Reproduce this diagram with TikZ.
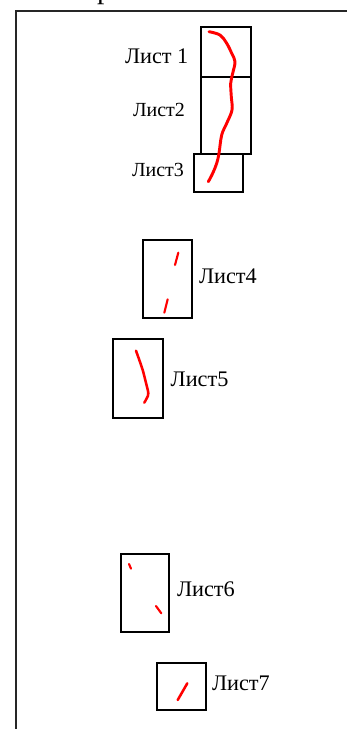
\documentclass[tikz,border=0pt]{standalone}
\usepackage{fontspec}
\setmainfont{Liberation Serif}
\begin{document}
\begin{tikzpicture}[x=0.75pt,y=-0.75pt,
  sheet/.style={draw=black,line width=1.5pt},
  frameline/.style={draw=black!85,line width=1.1pt},
  stroke/.style={draw=red,line width=2.2pt,line cap=round,line join=round},
  thinstroke/.style={draw=red,line width=1.6pt,line cap=round},
  lbl/.style={anchor=base west,inner sep=0pt,outer sep=0pt,font=\fontsize{16.7}{18}\selectfont},
  lblsmall/.style={lbl,font=\fontsize{15}{17}\selectfont}]
\useasboundingbox (0,0) rectangle (347,729);
% cut-off heading fragment
\node[lbl,font=\fontsize{22}{24}\selectfont] (head) at (97,-2) {р};
% frame
\draw[frameline] (16,729) -- (16,11) -- (347,11);
% sheets
\draw[sheet] (201,27) rectangle (250.5,76.5);
\draw[sheet] (201,76.5) rectangle (250.5,154.3);
\draw[sheet] (194,154.3) rectangle (243.3,192.3);
\draw[sheet] (142.7,240) rectangle (192,318.3);
\draw[sheet] (113.3,339) rectangle (162.7,418.3);
\draw[sheet] (120.7,554) rectangle (169.3,631.7);
\draw[sheet] (157.3,663.3) rectangle (206,710);
% red strokes
\draw[stroke] plot[smooth,tension=0.6] coordinates {(209,31.7) (220,35) (226.7,43.3) (231.7,53.3) (235,61.7) (232.7,73.3) (230.7,83.3) (231.3,96.7) (232,110) (226.7,123.3) (221.7,135) (219,153.3) (216.7,163.3) (212.7,173.3) (208.3,181.7)};
\draw[thinstroke] (178.3,252.7) -- (175,265);
\draw[thinstroke] (167.7,299.3) -- (164.3,312.7);
\draw[stroke,line width=1.9pt] plot[smooth,tension=0.6] coordinates {(136,350.7) (139.3,360) (142.7,370) (145.7,381.7) (148.3,393.3) (146.7,398.3) (144.3,402.7)};
\draw[thinstroke] (129,564) -- (131,568.7);
\draw[thinstroke] (156,606) -- (161.3,613.3);
\draw[thinstroke,line width=1.9pt] (187.3,683.3) -- (177.7,700);
% labels
\node[lbl] (l1) at (125,63) {Лист 1};
\node[lblsmall] (l2) at (133,116.7) {Лист2};
\node[lblsmall] (l3) at (132,176.7) {Лист3};
\node[lbl] (l4) at (199,283.3) {Лист4};
\node[lbl] (l5) at (170.7,386) {Лист5};
\node[lbl] (l6) at (177,596.7) {Лист6};
\node[lbl] (l7) at (212,690) {Лист7};
\end{tikzpicture}
\end{document}
